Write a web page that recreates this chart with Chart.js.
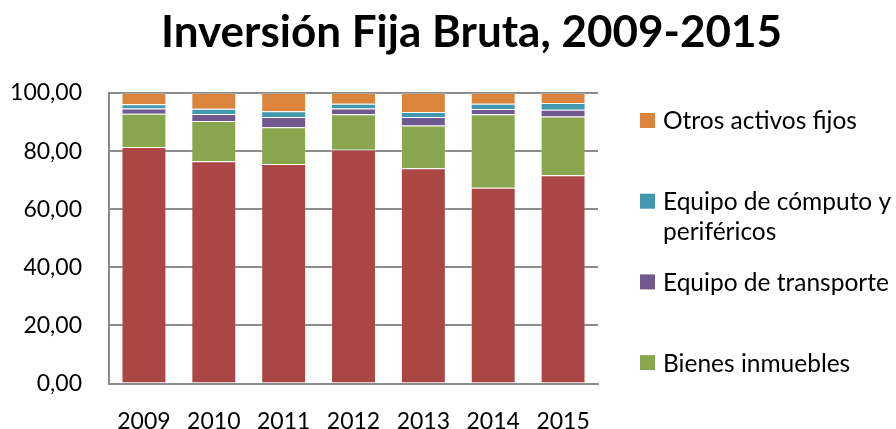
<!DOCTYPE html>
<html>
<head>
<meta charset="utf-8">
<script src="https://cdn.jsdelivr.net/npm/chart.js@4.4.1/dist/chart.umd.min.js"></script>
<style>
  html, body { margin: 0; padding: 0; background: #ffffff; }
  #wrap { width: 896px; height: 429px; position: relative; }
</style>
</head>
<body>
<div id="wrap"><canvas id="c" width="896" height="429"></canvas></div>
<script>
// ---- Data ----
const chartTitle = 'Inversión Fija Bruta, 2009-2015';
const years = ['2009', '2010', '2011', '2012', '2013', '2014', '2015'];
const maquinaria = [81.4, 76.5, 75.6, 80.5, 74.1, 67.4, 71.7];
const bienesInmuebles = [11.5, 13.9, 12.6, 12.2, 14.7, 25.3, 20.2];
const equipoTransporte = [1.8, 2.4, 3.5, 2.0, 2.9, 1.8, 2.3];
const equipoComputo = [1.4, 1.8, 2.0, 1.6, 1.8, 1.8, 2.4];
const otrosActivos = [3.9, 5.4, 6.3, 3.7, 6.5, 3.7, 3.4];
const yTicks = [0, 20, 40, 60, 80, 100];

const FONT = 'Lato, "Open Sans", sans-serif';
const GRID = '#8c8c8c';

const datasets = [
  { label: 'Maquinaria y equipo', data: maquinaria, backgroundColor: '#AA4643', inLegend: false },
  { label: 'Bienes inmuebles', data: bienesInmuebles, backgroundColor: '#89A54E', inLegend: true },
  { label: 'Equipo de transporte', data: equipoTransporte, backgroundColor: '#71588F', inLegend: true },
  { label: 'Equipo de cómputo y periféricos', data: equipoComputo, backgroundColor: '#4198AF', inLegend: true },
  { label: 'Otros activos fijos', data: otrosActivos, backgroundColor: '#DB843D', inLegend: true }
].map(d => Object.assign(d, {
  borderColor: 'rgba(255,255,255,0.22)',
  borderWidth: 1,
  borderSkipped: 'bottom',
  barPercentage: 0.643,
  categoryPercentage: 1.0
}));

function wrapText(ctx, text, maxW) {
  const words = text.split(' ');
  const lines = [];
  let cur = '';
  words.forEach(w => {
    const t = cur ? cur + ' ' + w : w;
    if (ctx.measureText(t).width > maxW && cur) { lines.push(cur); cur = w; }
    else cur = t;
  });
  if (cur) lines.push(cur);
  return lines;
}

const decorPlugin = {
  id: 'decor',
  afterDraw(chart) {
    const ctx = chart.ctx;
    ctx.save();
    // Title
    ctx.fillStyle = '#000000';
    ctx.font = 'bold 44px ' + FONT;
    ctx.textAlign = 'center';
    ctx.textBaseline = 'alphabetic';
    ctx.fillText(chartTitle, 471.5, 47);
    // Legend (top series first, first series not listed)
    const items = chart.data.datasets.filter(d => d.inLegend).slice().reverse();
    ctx.font = '24.5px ' + FONT;
    ctx.textAlign = 'left';
    ctx.textBaseline = 'middle';
    const sx = 640, sw = 15, tx = 663, y0 = 120.5, step = 80.7, lh = 30;
    items.forEach((d, i) => {
      const cy = y0 + i * step;
      ctx.fillStyle = d.backgroundColor;
      ctx.fillRect(sx, cy - sw / 2, sw, sw);
      ctx.fillStyle = '#000000';
      const lines = wrapText(ctx, d.label, 896 - tx);
      lines.forEach((ln, j) => ctx.fillText(ln, tx, cy + j * lh + 1));
    });
    ctx.restore();
  }
};

function build() {
  new Chart(document.getElementById('c'), {
    type: 'bar',
    data: { labels: years, datasets: datasets },
    plugins: [decorPlugin],
    options: {
      responsive: false,
      animation: false,
      devicePixelRatio: 1,
      layout: { padding: { left: 0, right: 298, top: 93, bottom: 0 } },
      plugins: {
        legend: { display: false },
        title: { display: false },
        tooltip: { enabled: false }
      },
      scales: {
        x: {
          stacked: true,
          grid: { display: false, drawTicks: false },
          border: { display: true, color: GRID, width: 2 },
          ticks: { color: '#000000', font: { family: FONT, size: 23 }, padding: 24, maxRotation: 0 },
          afterFit(scale) { scale.height = 45.5; }
        },
        y: {
          stacked: true,
          min: 0,
          max: 100,
          afterBuildTicks(scale) { scale.ticks = yTicks.map(v => ({ value: v })); },
          grid: { color: GRID, lineWidth: 2, drawTicks: false },
          border: { display: true, color: GRID, width: 2 },
          ticks: {
            color: '#000000',
            font: { family: FONT, size: 23 },
            padding: 27,
            callback: v => Number(v).toFixed(2).replace('.', ',')
          },
          afterFit(scale) { scale.width = 109; }
        }
      }
    }
  });
}

if (document.fonts && document.fonts.load) {
  Promise.all([
    document.fonts.load('23px Lato'),
    document.fonts.load('bold 44px Lato')
  ]).then(build, build);
} else {
  build();
}
</script>
</body>
</html>
